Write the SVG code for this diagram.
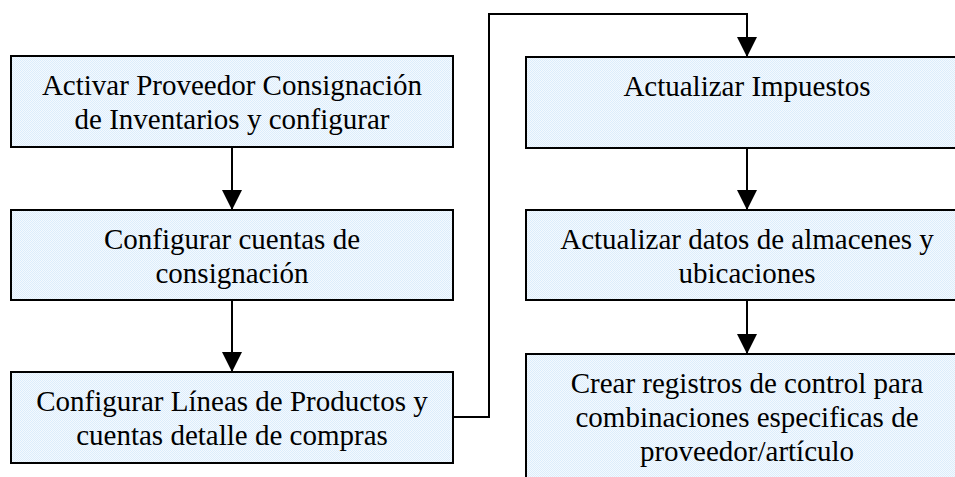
<svg xmlns="http://www.w3.org/2000/svg" width="955" height="477" viewBox="0 0 955 477">
<style>
.box{fill:url(#chk);stroke:#000;stroke-width:2}
.lbl{font-family:"Liberation Serif","Times New Roman",serif;font-size:29px;fill:#000;text-anchor:middle}
.con{fill:none;stroke:#000;stroke-width:2}
</style>
<defs>
<pattern id="chk" width="2" height="2" patternUnits="userSpaceOnUse">
<rect width="2" height="2" fill="#f4f9fe"/>
<rect width="1" height="1" fill="#dcedfb"/>
<rect x="1" y="1" width="1" height="1" fill="#dcedfb"/>
</pattern>
<marker id="arr" markerUnits="userSpaceOnUse" markerWidth="20" markerHeight="20" refX="20" refY="10" orient="auto">
<path d="M0,0 L20,10 L0,20 Z" fill="#000"/>
</marker>
</defs>
<rect width="955" height="477" fill="#fff"/>
<g id="connectors">
<path class="con" d="M232,147 V210" marker-end="url(#arr)"/>
<path class="con" d="M232,300 V372" marker-end="url(#arr)"/>
<path class="con" d="M453,417 H489 V14 H747 V57" marker-end="url(#arr)"/>
<path class="con" d="M747,148 V210" marker-end="url(#arr)"/>
<path class="con" d="M747,300 V354" marker-end="url(#arr)"/>
</g>
<g id="n1">
<rect class="box" x="11" y="56" width="442" height="91"/>
<text class="lbl" x="232" y="95">Activar Proveedor Consignación</text>
<text class="lbl" x="232" y="129">de Inventarios y configurar</text>
</g>
<g id="n2">
<rect class="box" x="11" y="210" width="442" height="90"/>
<text class="lbl" x="232" y="249">Configurar cuentas de</text>
<text class="lbl" x="232" y="283">consignación</text>
</g>
<g id="n3">
<rect class="box" x="11" y="372" width="442" height="91"/>
<text class="lbl" x="232" y="411">Configurar Líneas de Productos y</text>
<text class="lbl" x="232" y="445">cuentas detalle de compras</text>
</g>
<g id="n4">
<rect class="box" x="526" y="57" width="442" height="91"/>
<text class="lbl" x="747" y="96">Actualizar Impuestos</text>
</g>
<g id="n5">
<rect class="box" x="526" y="210" width="442" height="90"/>
<text class="lbl" x="747" y="249">Actualizar datos de almacenes y</text>
<text class="lbl" x="747" y="283">ubicaciones</text>
</g>
<g id="n6">
<rect class="box" x="526" y="354" width="442" height="140"/>
<text class="lbl" x="747" y="393">Crear registros de control para</text>
<text class="lbl" x="747" y="427">combinaciones especificas de</text>
<text class="lbl" x="747" y="461">proveedor/artículo</text>
</g>
</svg>
